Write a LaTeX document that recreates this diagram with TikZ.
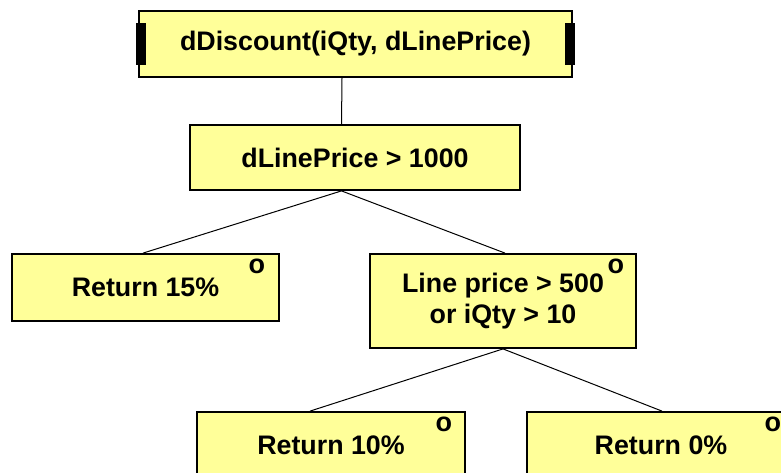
\documentclass[tikz,border=0pt]{standalone}
\usepackage{fontspec}
\setmainfont{Liberation Sans}
\usetikzlibrary{shadows}
\definecolor{boxfill}{HTML}{FFFF99}
\tikzset{
  box/.style={draw=black, line width=1.8pt, fill=boxfill, inner sep=0pt,
    align=center, font=\bfseries\fontsize{26.8}{32}\selectfont,
    drop shadow={shadow xshift=1.2pt, shadow yshift=-1.2pt, fill=black!35, opacity=1}},
  mark o/.style={inner sep=0pt, font=\bfseries\fontsize{27}{32}\selectfont},
  conn/.style={draw=black, line width=1pt},
}
\begin{document}
\begin{tikzpicture}[x=1pt,y=-1pt]
\useasboundingbox (0,0) rectangle (781,472);
\clip (0,0) rectangle (781,472);
\node[box, minimum width=433pt, minimum height=66pt] (top) at (355.5,44) {dDiscount(iQty, dLinePrice)};
\fill[black] ([xshift=-2pt,yshift=21pt]top.west) rectangle ([xshift=8pt,yshift=-21pt]top.west);
\fill[black] ([xshift=2pt,yshift=21pt]top.east) rectangle ([xshift=-8pt,yshift=-21pt]top.east);
\node[box, minimum width=330pt, minimum height=65pt] (cond) at (355,157.5) {\raisebox{-2pt}{dLinePrice > 1000}};
\node[box, minimum width=267pt, minimum height=67pt] (r15) at (145.5,287.5) {\raisebox{-3pt}{Return 15\%}};
\node[box, minimum width=266pt, minimum height=94pt] (cond2) at (503,301) {\raisebox{-5pt}{\parbox{260pt}{\centering Line price > 500\\[-1pt] or iQty > 10}}};
\node[box, minimum width=268pt, minimum height=67pt] (r10) at (331,445.5) {\raisebox{-3pt}{Return 10\%}};
\node[box, minimum width=268pt, minimum height=67pt] (r0) at (661,445.5) {\raisebox{-3pt}{Return 0\%}};
\node[mark o] (o1) at ([xshift=-23pt,yshift=-13.5pt]r15.north east) {o};
\node[mark o] (o2) at ([xshift=-21pt,yshift=-13.5pt]cond2.north east) {o};
\node[mark o] (o3) at ([xshift=-22pt,yshift=-13.5pt]r10.north east) {o};
\node[mark o] (o4) at ([xshift=-23pt,yshift=-13.5pt]r0.north east) {o};
\draw[conn] ([xshift=-13.5pt]top.south) -- ([xshift=-13.5pt]cond.north);
\draw[conn] ([xshift=-13.5pt]cond.south) -- ([xshift=-2.5pt]r15.north);
\draw[conn] ([xshift=-13.5pt]cond.south) -- ([xshift=2pt]cond2.north);
\draw[conn] (cond2.south) -- ([xshift=-21pt]r10.north);
\draw[conn] (cond2.south) -- ([xshift=1pt]r0.north);
\end{tikzpicture}
\end{document}
